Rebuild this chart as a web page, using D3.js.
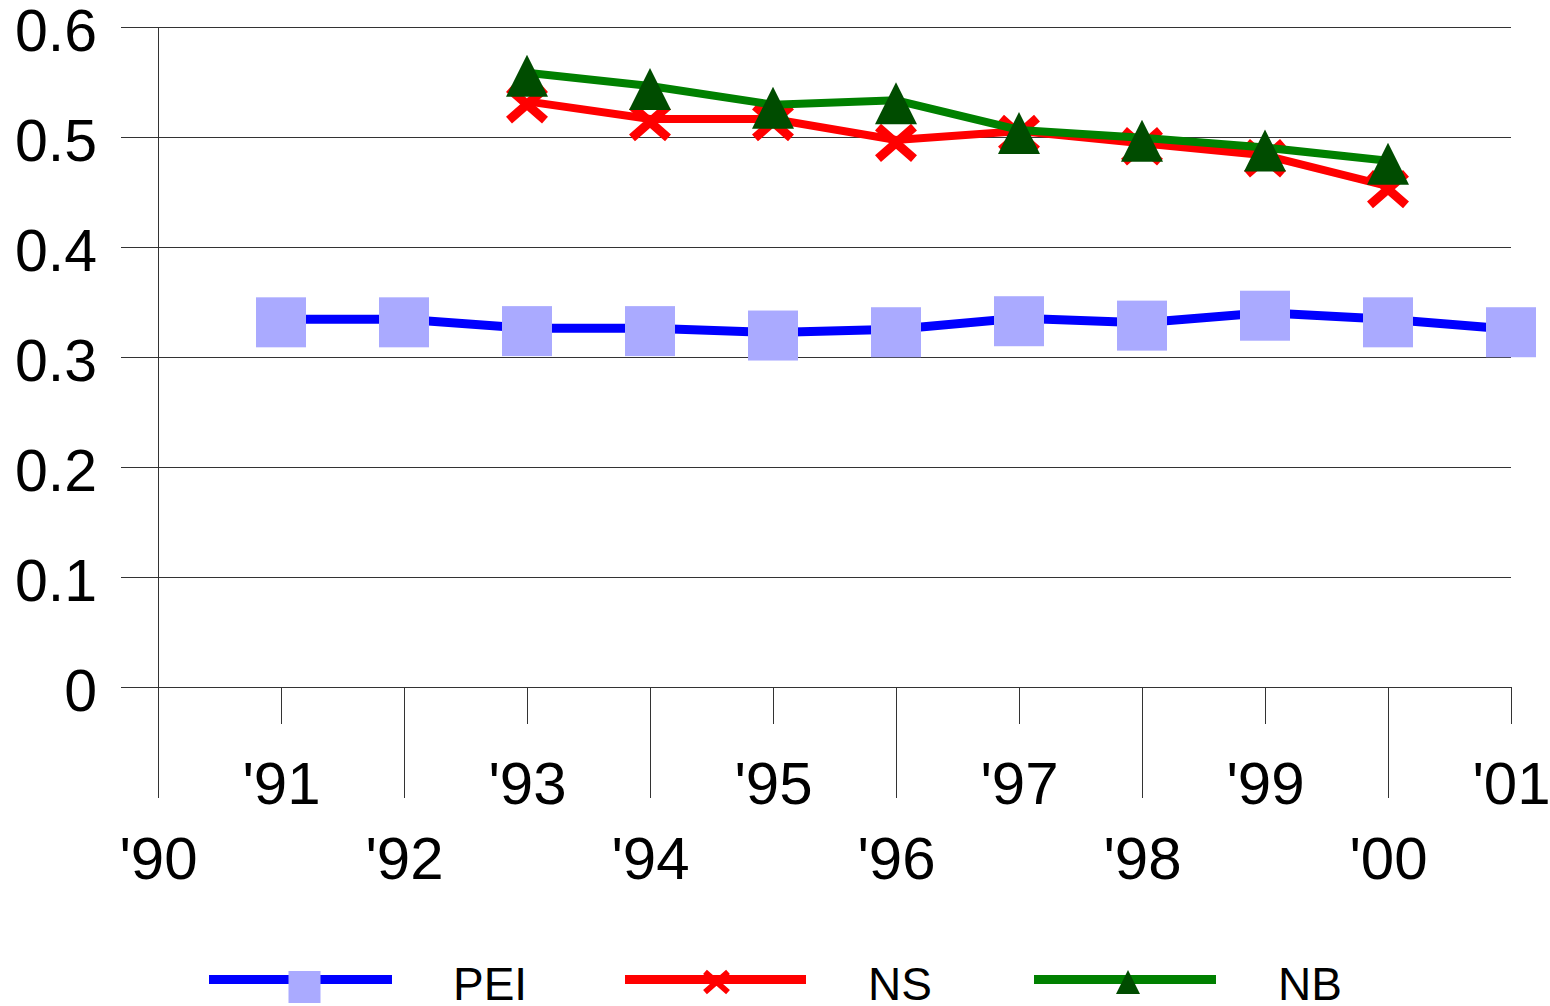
<!DOCTYPE html>
<html>
<head>
<meta charset="utf-8">
<script src="https://cdn.jsdelivr.net/npm/d3@7"></script>
<style>
  html, body { margin: 0; padding: 0; background: #fff; }
  svg { display: block; font-family: "Liberation Sans", Arial, sans-serif; }
</style>
</head>
<body>
<svg id="chart" width="1550" height="1006"></svg>
<script>
// ---- data ----
const years = [1990, 1991, 1992, 1993, 1994, 1995, 1996, 1997, 1998, 1999, 2000, 2001];
const xLabels = ["'90", "'91", "'92", "'93", "'94", "'95", "'96", "'97", "'98", "'99", "'00", "'01"];
const yTicks = [0, 0.1, 0.2, 0.3, 0.4, 0.5, 0.6];
const seriesNames = ["PEI", "NS", "NB"];
const peiValues = [null, 0.334, 0.334, 0.326, 0.326, 0.322, 0.325, 0.335, 0.331, 0.340, 0.334, 0.325];
const nsValues  = [null, null, null, 0.532, 0.516, 0.516, 0.497, 0.505, 0.494, 0.483, 0.455, null];
const nbValues  = [null, null, null, 0.558, 0.546, 0.529, 0.533, 0.506, 0.499, 0.490, 0.478, null];

// ---- layout ----
const svg = d3.select("#chart");
const plotLeft = 158, plotRight = 1511, gridLeft = 121;
const plotTop = 26.5, plotBottom = 687;

const x = d3.scaleLinear().domain([1990, 2001]).range([plotLeft, plotRight]);
const y = d3.scaleLinear().domain([0, 0.6]).range([plotBottom, plotTop]);

// Gridlines + y labels
const yAxis = d3.axisLeft(y)
  .tickValues(yTicks)
  .tickSize(-(plotRight - gridLeft))
  .tickPadding(24)
  .tickFormat(d => d === 0 ? "0" : d.toFixed(1));
const gy = svg.append("g").attr("transform", `translate(${gridLeft},0)`).call(yAxis);
gy.select(".domain").remove();
gy.selectAll(".tick line").attr("stroke", "#333").attr("stroke-width", 1).attr("shape-rendering", "crispEdges");
gy.selectAll(".tick text")
  .attr("font-size", 59).attr("fill", "#000")
  .attr("y", 0).attr("dominant-baseline", "central").attr("dy", "0.06em")
  .attr("font-family", "'Liberation Sans', Arial, sans-serif");

// Y axis line (extends down to the long ticks)
svg.append("line")
  .attr("x1", plotLeft).attr("x2", plotLeft)
  .attr("y1", plotTop).attr("y2", 798)
  .attr("stroke", "#333").attr("stroke-width", 1).attr("shape-rendering", "crispEdges");

// X axis ticks + labels (alternating)
const xAxis = d3.axisBottom(x)
  .tickValues(years)
  .tickSize(0)
  .tickFormat((d, i) => xLabels[i]);
const gx = svg.append("g").attr("transform", `translate(0,${plotBottom})`).call(xAxis);
gx.select(".domain").remove();
gx.selectAll(".tick line")
  .attr("y2", (d, i) => i === 0 ? 0 : (i % 2 === 0 ? 111 : 37))
  .attr("stroke", "#333").attr("stroke-width", 1).attr("shape-rendering", "crispEdges");
gx.selectAll(".tick text")
  .attr("font-size", 60).attr("fill", "#000")
  .attr("font-family", "'Liberation Sans', Arial, sans-serif")
  .attr("dy", null)
  .attr("y", (d, i) => i % 2 === 0 ? 192 : 117);

// ---- series ----
const series = [
  { name: seriesNames[0], values: peiValues, line: "#0000ff", width: 9, marker: "square", fill: "#aaaaff" },
  { name: seriesNames[1], values: nsValues, line: "#ff0000", width: 8, marker: "x", fill: "#ff0000" },
  { name: seriesNames[2], values: nbValues, line: "#008000", width: 8, marker: "triangle", fill: "#004c00" }
];

function drawMarker(g, type, cx, cy, s, fill) {
  if (type === "square") {
    g.append("rect").attr("x", cx - s / 2).attr("y", cy - s / 2)
      .attr("width", s).attr("height", s).attr("fill", fill);
  } else if (type === "x") {
    const h = s / 2, v = s * 0.44;
    g.append("path")
      .attr("d", `M${cx - h},${cy - v}L${cx + h},${cy + v}M${cx - h},${cy + v}L${cx + h},${cy - v}`)
      .attr("stroke", fill).attr("stroke-width", s * 0.25).attr("fill", "none");
  } else {
    const h = s / 2;
    g.append("path")
      .attr("d", `M${cx},${cy - h}L${cx + h},${cy + h}L${cx - h},${cy + h}Z`)
      .attr("fill", fill);
  }
}

const lineGen = d3.line()
  .defined(d => d.v !== null)
  .x(d => x(d.year))
  .y(d => y(d.v));

series.forEach(s => {
  const pts = years.map((yr, i) => ({ year: yr, v: s.values[i] }));
  const g = svg.append("g");
  g.append("path").datum(pts)
    .attr("d", lineGen)
    .attr("fill", "none").attr("stroke", s.line).attr("stroke-width", s.width)
    .attr("stroke-linejoin", "miter");
  const size = s.marker === "square" ? 50 : (s.marker === "x" ? 36 : 42);
  pts.filter(p => p.v !== null).forEach(p => drawMarker(g, s.marker, x(p.year), y(p.v) + 3, size, s.fill));
});

// ---- legend ----
const legendItems = [
  { s: series[0], x1: 209, x2: 392, tx: 453, msize: 32, dx: 4, my: 987 },
  { s: series[1], x1: 625, x2: 806, tx: 868, msize: 23, dx: 1, my: 982 },
  { s: series[2], x1: 1034, x2: 1216, tx: 1278, msize: 24, dx: 3, my: 982 }
];
const legY = 979.5;
legendItems.forEach(it => {
  const g = svg.append("g");
  g.append("line").attr("x1", it.x1).attr("x2", it.x2).attr("y1", legY).attr("y2", legY)
    .attr("stroke", it.s.line).attr("stroke-width", 9);
  const cx = (it.x1 + it.x2) / 2 + it.dx;
  drawMarker(g, it.s.marker, cx, it.my, it.msize, it.s.fill);
  g.append("text").attr("x", it.tx).attr("y", 1000)
    .attr("font-size", 46).attr("fill", "#000")
    .text(it.s.name);
});
</script>
</body>
</html>
